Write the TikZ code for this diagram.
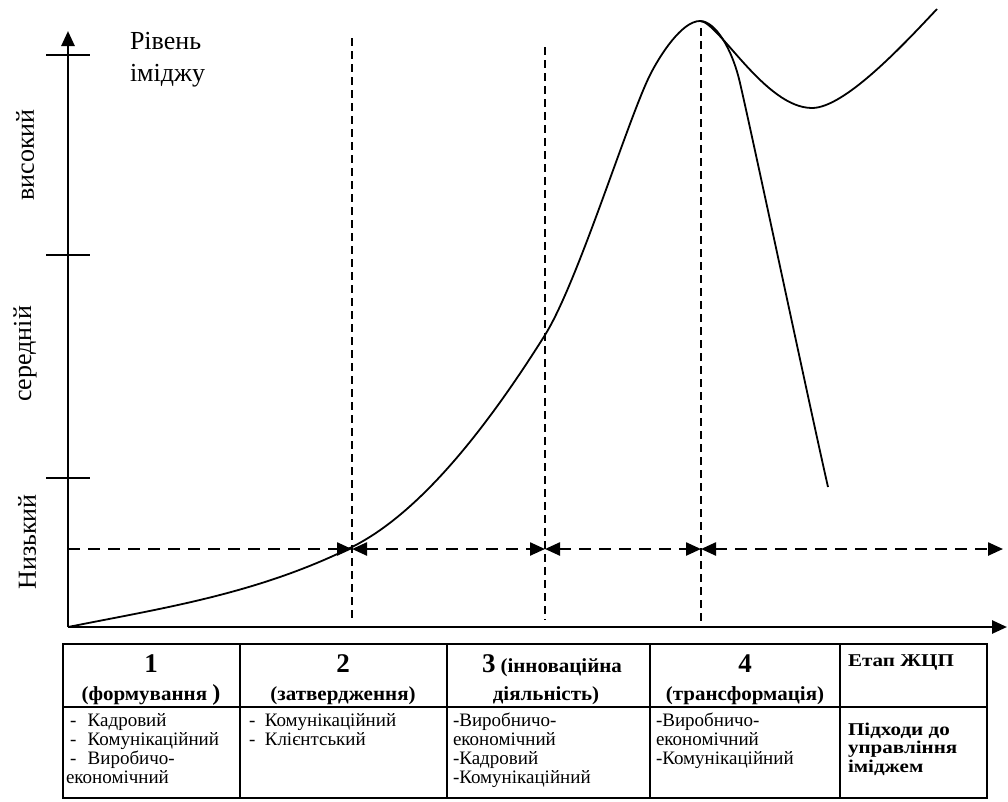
\documentclass[tikz,border=0pt]{standalone}
\usepackage{fontspec}
\setmainfont{Liberation Serif}
\usetikzlibrary{arrows.meta, positioning}

\begin{document}
\begin{tikzpicture}[
    x=1pt, y=-1pt,
    every node/.style={inner sep=0pt, outer sep=0pt},
    axis/.style={line width=2.6pt},
    tick/.style={line width=1.6pt},
    curve/.style={line width=1.8pt},
    guide/.style={line width=1.6pt, dash pattern=on 8pt off 5pt},
    phase/.style={line width=2.4pt, dash pattern=on 12pt off 8pt},
    tip/.tip={Triangle[length=15pt, width=13pt]},
    level/.style={font=\fontsize{26}{32}\selectfont},
    num/.style={font=\fontsize{27}{27}\selectfont\bfseries, anchor=base},
    head/.style={font=\fontsize{20}{20}\selectfont\bfseries\addfontfeature{FakeStretch=1.05}, anchor=base},
    body/.style={font=\fontsize{19}{19}\selectfont, align=left, anchor=base west},
    boldcell/.style={font=\fontsize{18}{18.5}\selectfont\bfseries\addfontfeature{FakeStretch=1.17}, align=left, anchor=base west},
    grid/.style={line width=1.6pt}
]
    \useasboundingbox (0,0) rectangle (1008,801);

    % axes
    \coordinate (o) at (68,627);
    \coordinate (ytop) at (68,31);
    \coordinate (xend) at (1007,627);
    \draw[axis, -tip] (o) -- (ytop);
    \draw[axis, -tip] (o) -- (xend);
    \foreach \t in {55,255,478}
        \draw[tick] (46,\t) -- (90,\t);

    % the node base is the baseline of its last line
    \node[level, align=left, anchor=base west] (ylab) at (130,81)
        {Рівень\\іміджу};
    \node[level, rotate=90] (high) at (25,155) {високий};
    \node[level, rotate=90] (mid) at (25,354) {середній};
    \node[level, rotate=90] (low) at (27,542) {Низький};

    % stage borders
    \coordinate (s1) at (352,549);
    \coordinate (s2) at (545,549);
    \coordinate (s3) at (701,549);
    \coordinate (s0) at (68,549);
    \coordinate (s4) at (1003,549);
    \draw[guide] (352,38) -- (352,620);
    \draw[guide] (545,47) -- (545,620);
    \draw[guide] (701,28) -- (701,627);

    \draw[phase, -tip] (s0) -- (s1);
    \draw[phase, tip-tip] (s1) -- (s2);
    \draw[phase, tip-tip] (s2) -- (s3);
    \draw[phase, tip-tip] (s3) -- (s4);

    % image curve
    \coordinate (peak) at (700,21);
    \coordinate (drop) at (828,487);
    \coordinate (dip) at (812,108);
    \coordinate (rise) at (937,9);
    \draw[curve] (o) .. controls (163,608) and (257,594) .. (352,547)
        .. controls (416,515) and (481,437) .. (545,335)
        .. controls (578,282) and (628,119) .. (650,75)
        .. controls (660,55) and (682,21) .. (peak)
        .. controls (715,21) and (732,48) .. (740,83)
        .. controls (755,148) and (810,408) .. (drop);
    \draw[curve] (peak) .. controls (718,21) and (765,108) .. (dip)
        .. controls (845,108) and (905,43) .. (rise);

    % table
    \draw[line width=2.4pt] (63,644) rectangle (987,798);
    \draw[grid] (63,707) -- (987,707);
    \foreach \c in {240,447,650,840}
        \draw[grid] (\c,644) -- (\c,798);

    \node[num] (n1) at (151,672) {1};
    \node[head] (t1) at (151,700) {(формування {\fontsize{23}{23}\selectfont )}};
    \node[num] (n2) at (343,672) {2};
    \node[head] (t2) at (343,700) {(затвердження)};
    \node[num, anchor=base west] (n3) at (482,672) {3};
    \node[head, right=5pt of n3.base east, anchor=base west] (t3) {(інноваційна};
    \node[head] (t3b) at (546,700) {діяльність)};
    \node[num] (n4) at (745,672) {4};
    \node[head] (t4) at (745,700) {(трансформація)};
    \node[boldcell] (t5) at (848,666) {Етап ЖЦП};

    \node[body] (b1) at (70,783)
        {-\hspace{0.6em}Кадровий\\-\hspace{0.6em}Комунікаційний\\-\hspace{0.6em}Виробичо-\\\hspace*{-4pt}економічний};
    \node[body] (b2) at (249,745)
        {-\hspace{0.5em}Комунікаційний\\-\hspace{0.5em}Клієнтський};
    \node[body] (b3) at (453,783)
        {-Виробничо-\\економічний\\-Кадровий\\-Комунікаційний};
    \node[body] (b4) at (656,764)
        {-Виробничо-\\економічний\\-Комунікаційний};
    \node[boldcell] (b5) at (848,772)
        {Підходи до\\управління\\іміджем};
\end{tikzpicture}
\end{document}
